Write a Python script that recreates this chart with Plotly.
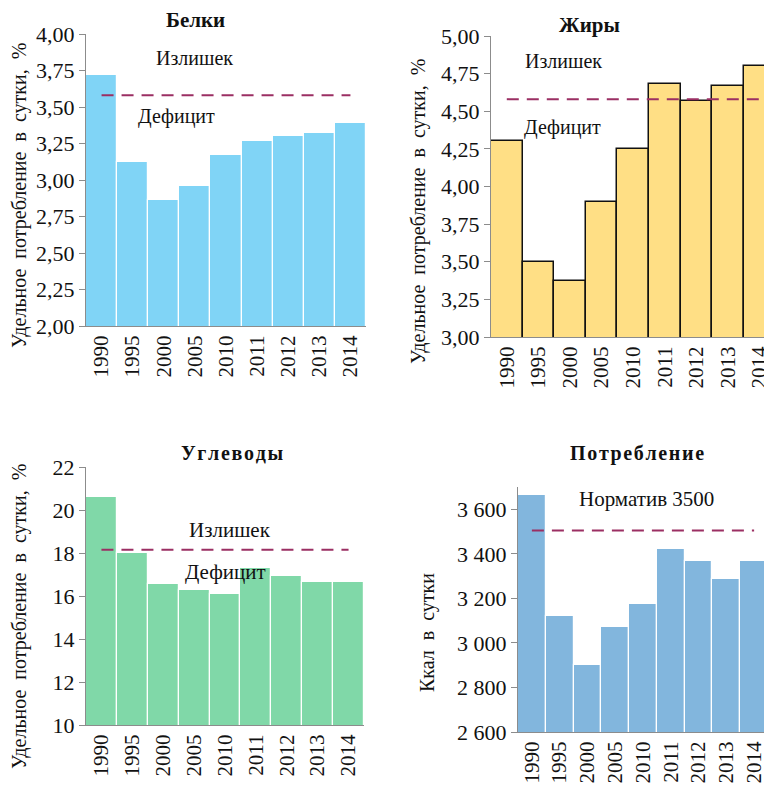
import plotly.graph_objects as go

years = ["1990", "1995", "2000", "2005", "2010", "2011", "2012", "2013", "2014"]

belki = [3.72, 3.12, 2.86, 2.96, 3.17, 3.27, 3.30, 3.32, 3.39]
belki_norm = 3.58
zhiry = [4.30, 3.50, 3.37, 3.90, 4.25, 4.68, 4.57, 4.67, 4.80]
zhiry_norm = 4.58
uglevody = [20.6, 18.0, 16.55, 16.3, 16.1, 17.3, 16.95, 16.65, 16.65]
uglevody_norm = 18.15
kkal = [3663, 3122, 2902, 3072, 3175, 3420, 3370, 3285, 3370]
kkal_norm = 3505

ytitle_pct = "Удельное\u00a0 потребление\u00a0 в\u00a0 сутки,\u00a0 %"
ytitle_kcal = "Ккал\u00a0 в\u00a0 сутки"

W, H = 772, 797
OFF = 8  # page body margin
FONT = "Liberation Serif, Times New Roman, serif"
HS = "\u200a"


def px_x(p):
    return (p - OFF) / W


def px_y(p):
    return 1 - (p - OFF) / H


def spaced(s):
    return HS.join(list(s))


fig = go.Figure()

panels = [
    dict(vals=belki, norm=belki_norm, color="#80d4f6", line=dict(color="white", width=1.2),
         xd=[px_x(86), px_x(366)], yd=[px_y(326), px_y(34)], yr=[2, 4], dt=0.25,
         tickformat=".2f", xr=[-0.5, 8.5]),
    dict(vals=zhiry, norm=zhiry_norm, color="#ffdf85", line=dict(color="#111111", width=1.5),
         xd=[px_x(491), 1.0], yd=[px_y(337), px_y(36)], yr=[3, 5], dt=0.25,
         tickformat=".2f", xr=[-0.5, 8.65]),
    dict(vals=uglevody, norm=uglevody_norm, color="#80d8a8", line=dict(color="white", width=1.2),
         xd=[px_x(86), px_x(364)], yd=[px_y(725), px_y(467)], yr=[10, 22], dt=2,
         tickformat="d", xr=[-0.5, 8.5]),
    dict(vals=kkal, norm=kkal_norm, color="#82b6dd", line=dict(color="white", width=1.2),
         xd=[px_x(518), px_x(768)], yd=[px_y(732), px_y(487)], yr=[2600, 3700], dt=200,
         tickformat=",d", xr=[-0.5, 8.5]),
]

for i, p in enumerate(panels, start=1):
    xa = "x" if i == 1 else f"x{i}"
    ya = "y" if i == 1 else f"y{i}"
    fig.add_trace(go.Bar(
        x=list(range(len(years))), y=p["vals"],
        marker=dict(color=p["color"], line=p["line"]),
        width=1.0, xaxis=xa, yaxis=ya, showlegend=False, hoverinfo="x+y",
    ))
    fig.add_shape(type="line", xref=xa, yref=ya, x0=0, x1=len(years) - 1,
                  y0=p["norm"], y1=p["norm"],
                  line=dict(color="#9b2f63", width=2, dash="12px,8px"))
    xkey = "xaxis" if i == 1 else f"xaxis{i}"
    ykey = "yaxis" if i == 1 else f"yaxis{i}"
    fig.update_layout(**{
        xkey: dict(domain=p["xd"], anchor=ya, range=p["xr"], tickmode="array",
                   tickvals=list(range(len(years))), ticktext=years, tickangle=-90,
                   showline=True, linecolor="#8c8c8c", linewidth=1.2, ticks="",
                   showgrid=False, zeroline=False, automargin=False,
                   tickfont=dict(family=FONT, size=21, color="#111111")),
        ykey: dict(domain=p["yd"], anchor=xa, range=p["yr"], dtick=p["dt"], tick0=p["yr"][0],
                   tickformat=p["tickformat"], showline=True, linecolor="#8c8c8c", linewidth=1.2,
                   ticks="outside", ticklen=6, tickcolor="#8c8c8c", showgrid=False,
                   zeroline=False, automargin=False,
                   tickfont=dict(family=FONT, size=22, color="#111111")),
    })

ann = [
    # titles
    dict(text="<b>Белки</b>", x=195, y=20, size=21),
    dict(text="<b>Жиры</b>", x=589, y=25, size=21),
    dict(text="<b>" + spaced("Углеводы") + "</b>", x=232, y=453, size=20),
    dict(text="<b>" + spaced("Потребление") + "</b>", x=637, y=453, size=20),
    # region labels
    dict(text="Излишек", x=194, y=58, size=20),
    dict(text="Дефицит", x=176, y=117, size=20),
    dict(text="Излишек", x=563, y=61, size=20),
    dict(text="Дефицит", x=562, y=127, size=20),
    dict(text="Излишек", x=230, y=530, size=21),
    dict(text="Дефицит", x=225, y=572, size=21),
    dict(text="Норматив 3500", x=646, y=499, size=21),
]
for a in ann:
    fig.add_annotation(text=a["text"], xref="paper", yref="paper",
                       x=px_x(a["x"]), y=px_y(a["y"]), showarrow=False,
                       xanchor="center", yanchor="middle",
                       font=dict(family=FONT, size=a["size"], color="#111111"))

ytitles = [
    (ytitle_pct, 19, 196),
    (ytitle_pct, 418, 212),
    (ytitle_pct, 19, 617),
    (ytitle_kcal, 427, 633),
]
for t, x, y in ytitles:
    fig.add_annotation(text=t, xref="paper", yref="paper", x=px_x(x), y=px_y(y),
                       showarrow=False, textangle=-90, xanchor="center", yanchor="middle",
                       font=dict(family=FONT, size=20, color="#111111"))

fig.update_layout(
    width=W, height=H, margin=dict(l=0, r=0, t=0, b=0, autoexpand=False),
    paper_bgcolor="white", plot_bgcolor="white", bargap=0,
    separators=", ",
)

fig.write_html("out.html")
